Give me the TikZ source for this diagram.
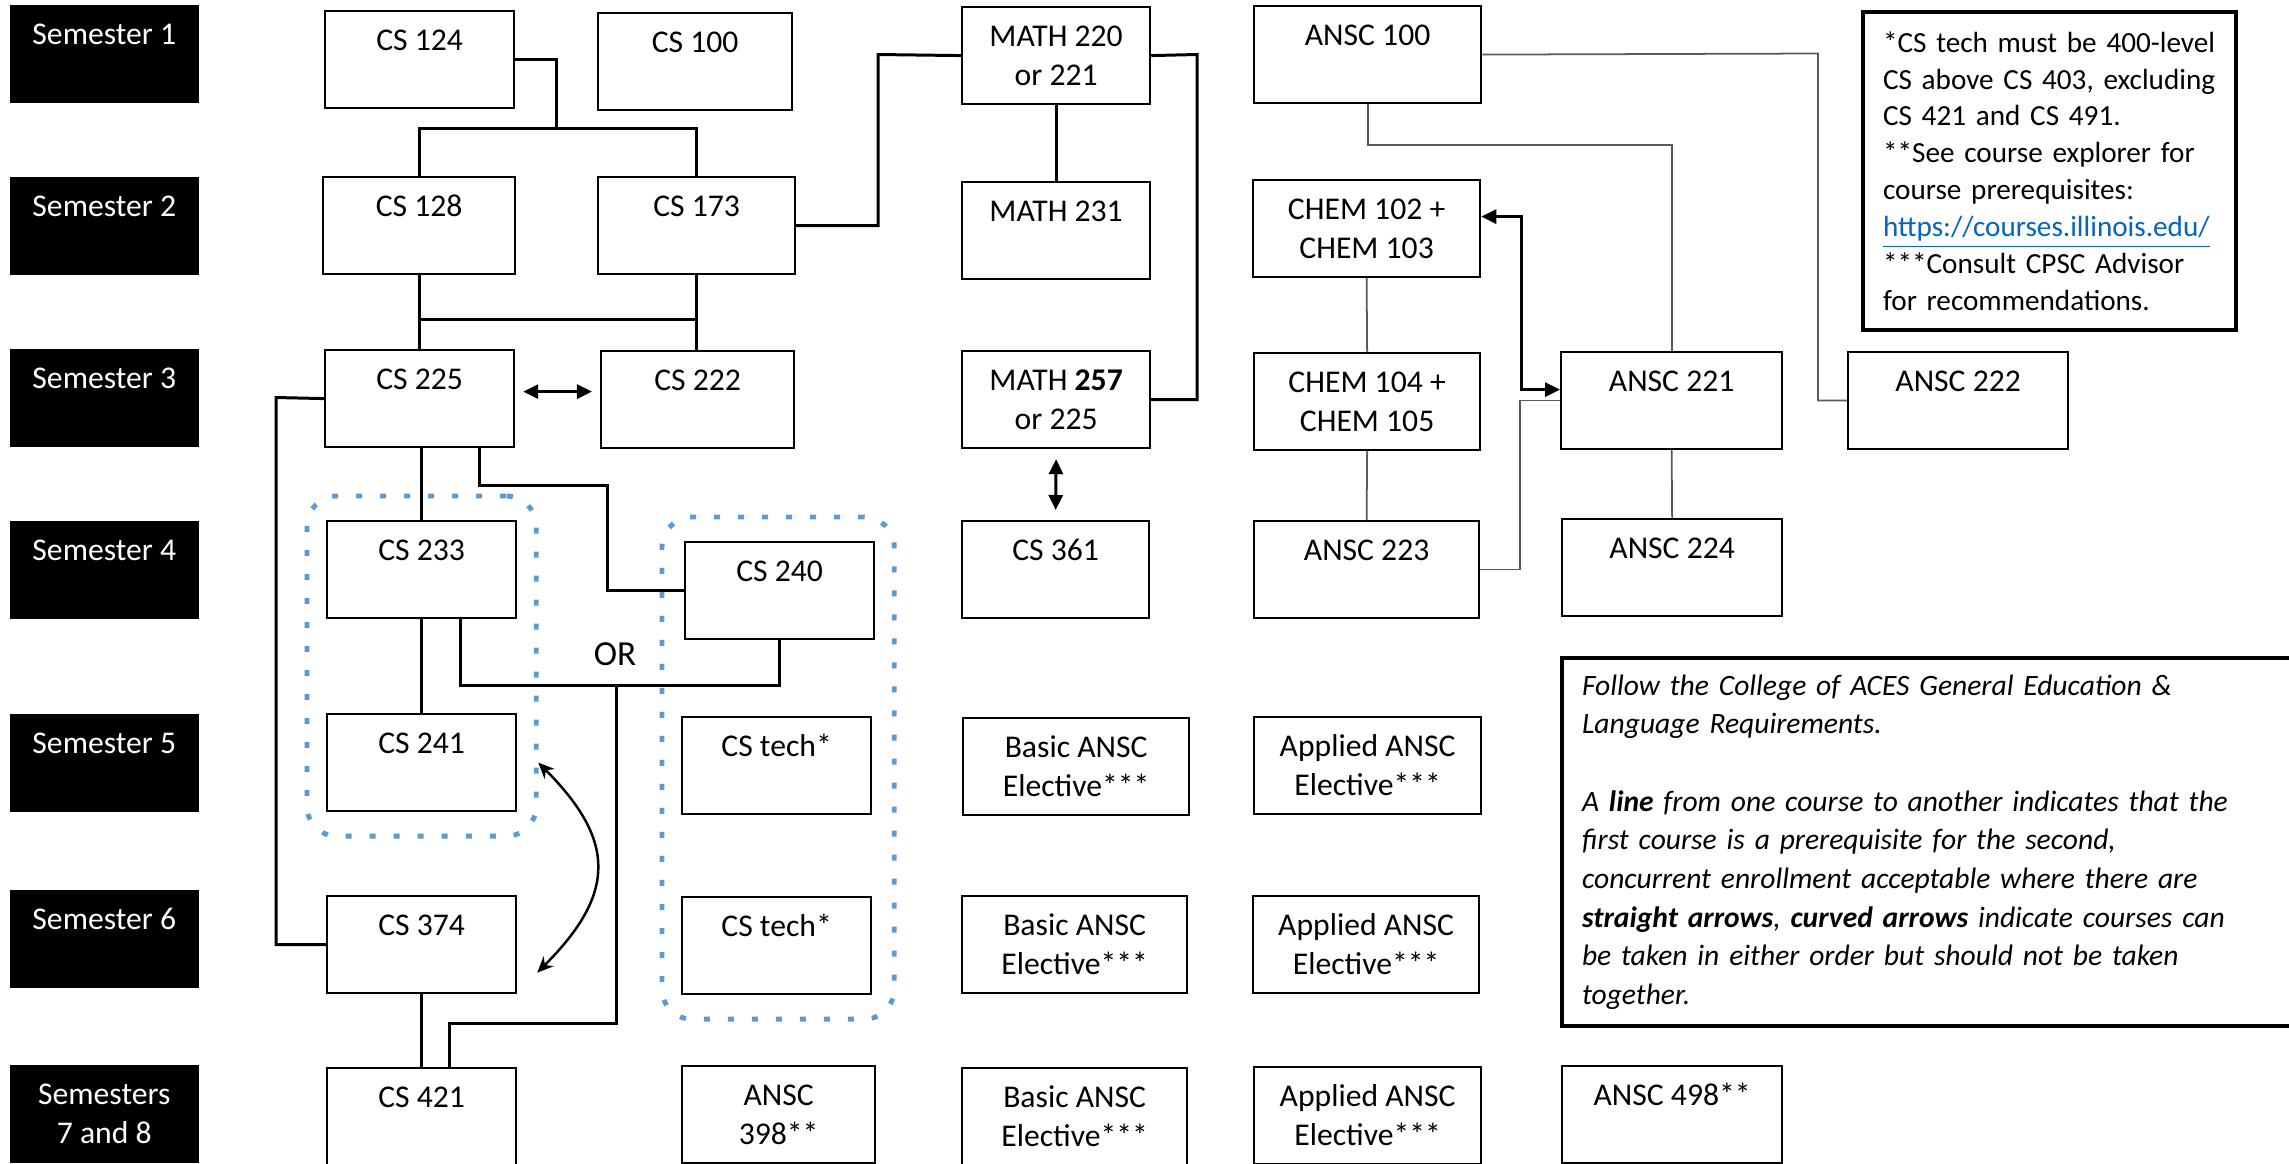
\documentclass[tikz,border=0pt]{standalone}
\usepackage{fontspec}
\setmainfont{Carlito}
\usetikzlibrary{arrows.meta, fit}
\definecolor{dotblue}{RGB}{91, 155, 213}
\definecolor{linkblue}{RGB}{5, 99, 193}
\definecolor{linegray}{RGB}{90, 90, 90}
\newcommand{\toptext}[1]{\parbox[c][0.97cm][t]{1.8cm}{\centering\vspace*{0.12cm}\strut #1}}

\begin{document}
\begin{tikzpicture}[x=0.01cm, y=-0.01cm, >={Triangle[length=0.15cm, width=0.14cm]},
    every node/.style={font=\fontsize{9}{11.1}\selectfont},
    sem/.style={fill=black, text=white, anchor=north west, inner sep=0pt, minimum width=1.89cm, minimum height=0.98cm},
    course/.style={draw, line width=0.6pt, anchor=north west, inner sep=0pt, minimum width=#1, minimum height=0.97cm},
    course/.default=1.89cm,
    prereq/.style={line width=0.85pt},
    ansclink/.style={line width=0.5pt, linegray},
    dotgroup/.style={draw=dotblue, line width=1.4pt, dash pattern=on 0.06cm off 0.18cm, rounded corners=0.3cm, inner xsep=0.19cm, inner ysep=0.24cm},
    notebox/.style={draw, line width=1.15pt, anchor=north west, align=left, inner xsep=0.2cm}]
        \useasboundingbox (0,0) rectangle (2289,1163);
        \clip (0,0) rectangle (2289,1163);
        \fill[white] (0,0) rectangle (2289,1163);

        % semester labels
        \node[sem] (s1) at (9,4) {\toptext{Semester 1}};
        \node[sem] (s2) at (9,176) {\toptext{Semester 2}};
        \node[sem] (s3) at (9,348) {\toptext{Semester 3}};
        \node[sem] (s4) at (9,520) {\toptext{Semester 4}};
        \node[sem] (s5) at (9,713) {\toptext{Semester 5}};
        \node[sem] (s6) at (9,889) {\toptext{Semester 6}};
        \node[sem] (s78) at (9,1064) {\toptext{Semesters\\7 and 8}};

        % CS courses
        \node[course] (cs124) at (324,10) {\toptext{CS 124}};
        \node[course=1.94cm] (cs100) at (597,12) {\toptext{CS 100}};
        \node[course=1.92cm] (cs128) at (322,176) {\toptext{CS 128}};
        \node[course=1.97cm] (cs173) at (597,176) {\toptext{CS 173}};
        \node[course] (cs225) at (324,349) {\toptext{CS 225}};
        \node[course=1.93cm] (cs222) at (600,350) {\toptext{CS 222}};
        \node[course] (cs233) at (326,520) {\toptext{CS 233}};
        \node[course] (cs240) at (684,541) {\toptext{CS 240}};
        \node[course] (cs241) at (326,713) {\toptext{CS 241}};
        \node[course] (cs374) at (326,895) {\toptext{CS 374}};
        \node[course] (cs421) at (326,1067) {\toptext{CS 421}};
        \node[course] (tech5) at (681,716) {\toptext{CS tech*}};
        \node[course] (tech6) at (681,896) {\toptext{CS tech*}};
        \node[course=1.93cm] (ansc398) at (681,1065) {\toptext{ANSC\\398**}};

        % math column
        \node[course=1.88cm] (math220) at (961,6) {\toptext{MATH 220\\or 221}};
        \node[course=1.88cm] (math231) at (961,181) {\toptext{MATH 231}};
        \node[course=1.88cm] (math257) at (961,350) {\toptext{MATH \textbf{257}\\or 225}};
        \node[course=1.87cm] (cs361) at (961,520) {\toptext{CS 361}};
        \node[course=2.26cm] (basic5) at (962,717) {\toptext{Basic ANSC\\Elective***}};
        \node[course=2.25cm] (basic6) at (961,895) {\toptext{Basic ANSC\\Elective***}};
        \node[course=2.25cm] (basic78) at (961,1067) {\toptext{Basic ANSC\\Elective***}};

        % ANSC and CHEM
        \node[course=2.27cm] (ansc100) at (1253,5) {\toptext{ANSC 100}};
        \node[course=2.27cm] (chem102) at (1252,179) {\toptext{CHEM 102 +\\CHEM 103}};
        \node[course=2.26cm] (chem104) at (1253,352) {\toptext{CHEM 104 +\\CHEM 105}};
        \node[course=2.25cm] (ansc223) at (1253,520) {\toptext{ANSC 223}};
        \node[course=2.27cm] (applied5) at (1253,716) {\toptext{Applied ANSC\\Elective***}};
        \node[course=2.26cm] (applied6) at (1252,895) {\toptext{Applied ANSC\\Elective***}};
        \node[course=2.27cm] (applied78) at (1253,1066) {\toptext{Applied ANSC\\Elective***}};
        \node[course=2.21cm] (ansc221) at (1560,351) {\toptext{ANSC 221}};
        \node[course=2.20cm] (ansc224) at (1561,518) {\toptext{ANSC 224}};
        \node[course=2.20cm] (ansc498) at (1561,1065) {\toptext{ANSC 498**}};
        \node[course=2.20cm] (ansc222) at (1847,351) {\toptext{ANSC 222}};

        % notes
        \node[notebox, font=\fontsize{8.3}{10.5}\selectfont, text width=3.33cm, minimum height=3.18cm] (notes) at (1861,10)
            {*CS tech must be 400-level\\CS above CS 403, excluding\\CS 421 and CS 491.\\{}**See course explorer for\\course prerequisites:\\\textcolor{linkblue}{\underline{https://courses.illinois.edu/}}\\{}***Consult CPSC Advisor\\for recommendations.};
        \node[notebox, font=\fontsize{8.4}{11}\selectfont\itshape, text width=7.3cm, minimum height=3.68cm] (rules) at (1560,656)
            {Follow the College of ACES General Education \&\\Language Requirements.\\[11pt]A \textbf{line} from one course to another indicates that the\\first course is a prerequisite for the second,\\concurrent enrollment acceptable where there are\\\textbf{straight arrows}, \textbf{curved arrows} indicate courses can\\be taken in either order but should not be taken\\together.};

        % dotted groups
        \node[dotgroup, fit=(cs233)(cs241)] (grp1) {};
        \node[dotgroup, fit=(cs240)(tech5)(tech6)] (grp2) {};
        \node[font=\fontsize{10}{12}\selectfont] (ortext) at (615,654) {OR};

        % CS prerequisites
        \coordinate (j1) at (556,128);
        \draw[prereq] (cs124.east) -| (j1);
        \draw[prereq] (cs128.north) |- (j1) -| (cs173.north);
        \coordinate (j2) at (0,319);
        \draw[prereq] (cs128.south) -- (cs128.south |- cs225.north);
        \draw[prereq] (cs173.south) -- (cs173.south |- cs222.north);
        \draw[prereq] (cs128.south |- j2) -- (cs173.south |- j2);
        \coordinate (j3) at (878,54.5);
        \draw[prereq] (cs173.east) -| (j3) -- (math220.west);
        \draw[prereq] (math220.south) -- (math231.north);
        \coordinate (j4) at (1197,54.5);
        \draw[prereq] (math220.east) -- (j4) |- (math257.east);
        \draw[prereq, <->] ([yshift=-0.1cm]math257.south) -- ([yshift=0.1cm]cs361.north);
        \draw[prereq, <->] ([xshift=0.08cm, yshift=0.07cm]cs225.east) -- ([xshift=-0.08cm, yshift=0.08cm]cs222.west);
        \coordinate (j5) at (276,397.5);
        \draw[prereq] (cs225.west) -- (j5) |- (cs374.west);
        \draw[prereq] (cs233.north |- cs225.south) -- (cs233.north);
        \coordinate (j6) at (607,485);
        \draw[prereq] ([xshift=0.6cm]cs225.south) |- (j6) |- (cs240.west);
        \draw[prereq] (cs233.south) -- (cs241.north);
        \coordinate (j7) at (616,685);
        \draw[prereq] ([xshift=0.385cm]cs233.south) |- (j7) -| (cs240.south);
        \coordinate (j8) at (616,1023);
        \draw[prereq] (j7) -- (j8) -| ([xshift=0.275cm]cs421.north);
        \draw[prereq] (cs374.south) -- (cs421.north);
        \draw[line width=0.7pt, {Stealth[length=0.16cm, width=0.14cm]}-{Stealth[length=0.16cm, width=0.14cm]}]
            ([xshift=0.21cm]cs241.east) to[out=-45, in=45, looseness=1.35] ([xshift=0.2cm, yshift=-0.28cm]cs374.east);

        % ANSC prerequisites
        \draw[prereq, <->] ([yshift=0.12cm]chem102.east) -- ++(0.4cm,0) |- ([yshift=0.11cm]ansc221.west);
        \draw[ansclink] (ansc223.east) -- ++(0.4cm,0) |- (ansc221.west);
        \coordinate (j9) at (1818,53.5);
        \draw[ansclink] (ansc100.east) -- (j9) |- (ansc222.west);
        \draw[ansclink] (ansc100.south) -- ++(0,-0.41cm) -| (ansc221.north);
        \draw[ansclink] (chem102.south) -- (chem104.north);
        \draw[ansclink] (chem104.south) -- (ansc223.north);
        \draw[ansclink] (ansc221.south) -- (ansc224.north);
    \end{tikzpicture}
\end{document}
